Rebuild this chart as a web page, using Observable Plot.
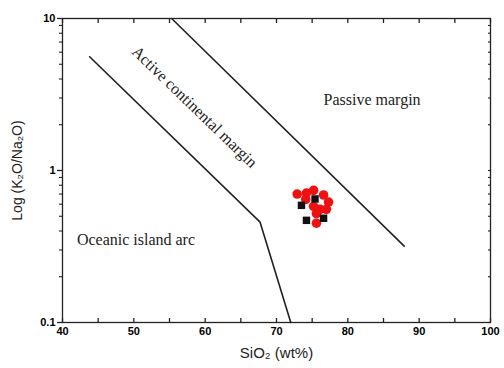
<!DOCTYPE html>
<html><head><meta charset="utf-8">
<script src="https://cdn.jsdelivr.net/npm/d3@7"></script>
<script src="https://cdn.jsdelivr.net/npm/@observablehq/plot@0.6"></script>
<style>body{margin:0;background:#fff}</style>
</head><body><div id="chart"></div>
<script>
const xTicks = [40, 50, 60, 70, 80, 90, 100];
const xMinor = [45, 55, 65, 75, 85, 95];
const yTicks = [0.1, 1, 10];
const yMinor = [0.2,0.3,0.4,0.5,0.6,0.7,0.8,0.9,2,3,4,5,6,7,8,9];

const boundaryOceanic = [{x:43.8,y:5.6},{x:67.7,y:0.457},{x:72.0,y:0.1}];
const boundaryPassive = [{x:55.3,y:10},{x:87.9,y:0.318}];

const circlesSi = [72.9, 74.2, 75.2, 76.6, 77.3, 74.1, 75.2, 76.1, 77.0, 75.6, 75.6];
const circlesK  = [0.70, 0.71, 0.74, 0.69, 0.62, 0.645, 0.58, 0.555, 0.555, 0.45, 0.52];
const squaresSi = [73.5, 75.4, 74.2, 76.6];
const squaresK  = [0.59, 0.65, 0.47, 0.485];

const labels = [
  {x:83.4, y:2.9, text:"Passive margin", rotate:0},
  {x:50.3, y:0.35, text:"Oceanic island arc", rotate:0},
  {x:58.5, y:2.62, text:"Active continental margin", rotate:44}
];

const circles = circlesSi.map((x,i)=>({x, y:circlesK[i]}));
const squares = squaresSi.map((x,i)=>({x, y:squaresK[i]}));

const plot = Plot.plot({
  width: 504, height: 368,
  marginLeft: 62, marginRight: 14, marginTop: 18, marginBottom: 46,
  style: {fontFamily: "Liberation Sans, Arial, sans-serif", background: "#fff"},
  x: {domain: [40, 100]},
  y: {type: "log", domain: [0.1, 10]},
  marks: [
    Plot.frame({stroke: "#222", strokeWidth: 1.3}),
    Plot.axisX({ticks: xTicks, tickSize: 0, tickPadding: 5, fontWeight: "bold", fontSize: 11, label: null, tickFormat: d=>d}),
    Plot.axisX({ticks: xTicks.concat(xMinor), tickSize: -4, text: null, label: null, stroke:"#222", strokeWidth:1.3}),
    Plot.axisX({anchor: "top", ticks: xTicks.concat(xMinor), tickSize: -4, text: null, label: null, stroke:"#222", strokeWidth:1.3}),
    Plot.axisY({ticks: yTicks, tickSize: 5, tickPadding: 2, fontWeight: "bold", fontSize: 11, label: null, tickFormat: d=>String(d), stroke:"#222", strokeWidth:1.3}),
    Plot.axisY({ticks: yMinor, tickSize: 3, text: null, label: null, stroke:"#222", strokeWidth:1.1}),
    Plot.axisY({anchor: "right", ticks: yTicks.concat(yMinor), tickSize: -3, text: null, label: null, stroke:"#222", strokeWidth:1.1}),
    Plot.line(boundaryOceanic, {x:"x", y:"y", stroke:"#222", strokeWidth:1.6}),
    Plot.line(boundaryPassive, {x:"x", y:"y", stroke:"#222", strokeWidth:1.6}),
    Plot.dot(circles, {x:"x", y:"y", r:4.8, fill:"#ee1111", stroke:"none"}),
    Plot.dot(squares, {x:"x", y:"y", r:4.2, symbol:"square", fill:"#111", stroke:"none"}),
    Plot.text(labels, {x:"x", y:"y", text:"text", rotate:"rotate", fontFamily:"Liberation Serif, Times New Roman, serif", fontSize:16, fill:"#222"}),
    Plot.text(["SiO₂ (wt%)"], {frameAnchor:"bottom", dy:35, fontSize:15, fill:"#222", text:d=>d}),
    Plot.text(["Log (K₂O/Na₂O)"], {frameAnchor:"left", textAnchor:"middle", dx:-45, rotate:-90, fontSize:14, fill:"#222", text:d=>d})
  ]
});
document.getElementById("chart").appendChild(plot);
</script></body></html>
